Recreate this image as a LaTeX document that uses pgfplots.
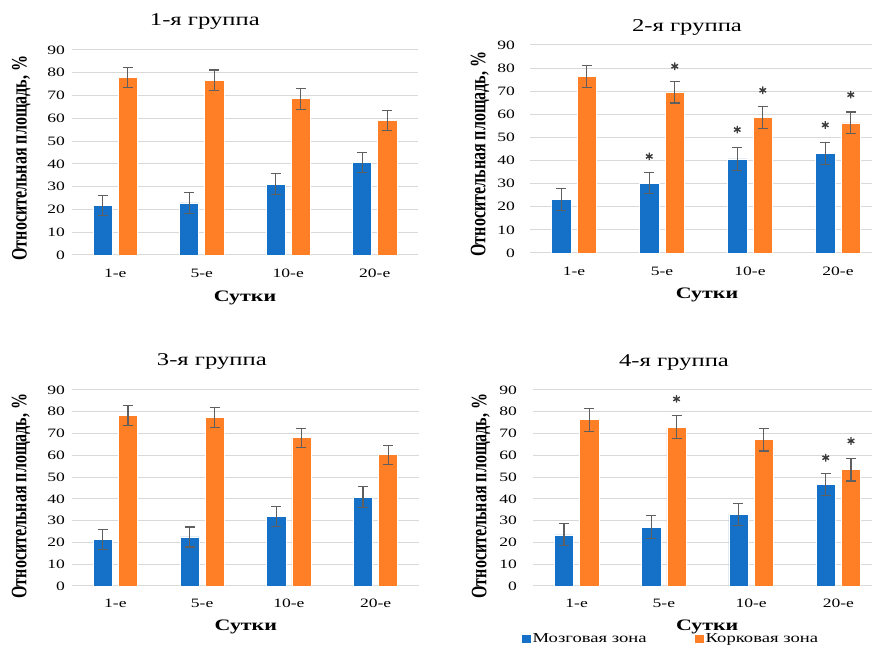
\documentclass[border=0pt]{standalone}
\usepackage{fontspec}
\setmainfont{Liberation Serif}
\newfontfamily\wide[FakeStretch=1.37]{Liberation Serif}
\newfontfamily\narrow[FakeStretch=0.73]{Liberation Serif}
\usepackage{pgfplots}
\pgfplotsset{compat=1.18}
\definecolor{cblue}{RGB}{21,112,200}
\definecolor{corange}{RGB}{255,127,39}
\definecolor{cerr}{RGB}{95,95,95}
\definecolor{cgrid}{RGB}{217,217,217}
\definecolor{cstar}{RGB}{60,60,60}
\pgfplotsset{
 panel/.style={
  scale only axis, xmin=-0.5, xmax=3.5, ymin=0, ymax=90, ytick={0,10,...,90},
  xtick={0,1,2,3}, xticklabels={1-е,5-е,10-е,20-е},
  axis line style={draw=none}, major tick length=0pt,
  ymajorgrids, major grid style={cgrid, line width=1pt},
  tick label style={font=\wide\fontsize{12.8}{14}\selectfont},
  /pgf/number format/assume math mode=true,
  xticklabel style={anchor=base, inner sep=0pt},
  yticklabel style={anchor=east, inner sep=0pt},
  title style={font=\wide\fontsize{18}{20}\selectfont, anchor=base, inner sep=0pt, yshift=0pt},
  xlabel style={font=\wide\bfseries\fontsize{16}{18}\selectfont, anchor=base, inner sep=0pt},
  ylabel style={font=\narrow\bfseries\fontsize{22}{24}\selectfont, anchor=center, inner sep=0pt},
  xlabel={Сутки}, ylabel={Относительная площадь, \%},
  legend image code/.code={\fill[##1, draw=none] (0pt,-4.2pt) rectangle (9pt,4.2pt);},
 },
 bb/.style={ybar, bar width=0.22, bar shift=0pt, fill=cblue, draw=white, line width=0.6pt,
  error bars/.cd, y dir=both, y explicit,
  error bar style={cerr, line width=1.1pt},
  error mark options={rotate=90, cerr, mark size=5pt, line width=1.1pt}},
 oo/.style={ybar, bar width=0.22, bar shift=0pt, fill=corange, draw=white, line width=0.6pt,
  error bars/.cd, y dir=both, y explicit,
  error bar style={cerr, line width=1.1pt},
  error mark options={rotate=90, cerr, mark size=5pt, line width=1.1pt}},
 st/.style={only marks, mark=asterisk, mark size=3.8pt, mark options={cstar, line width=1.4pt}},
}
\begin{document}
\begin{tikzpicture}
\useasboundingbox (0,0) rectangle (872pt,647pt);
% Panel 1
\begin{axis}[panel, at={(72pt,392pt)}, anchor=south west, width=346pt, height=205pt,
  title={1-я группа},
  title style={at={(axis description cs:0.384,1.088)}},
  xlabel style={at={(axis description cs:0.5,-0.225)}},
  ylabel style={at={(axis description cs:-0.147,0.473)}},
  yticklabel style={xshift=-7pt}, xticklabel style={yshift=-23pt}]
\addplot[bb] coordinates {(-0.145,21.8) +- (0,4.4) (0.855,22.9) +- (0,4.5) (1.855,31.1) +- (0,4.5) (2.855,40.6) +- (0,4.4)};
\addplot[oo] coordinates {(0.145,77.9) +- (0,4.5) (1.145,76.8) +- (0,4.4) (2.145,68.6) +- (0,4.6) (3.145,59.2) +- (0,4.4)};
\end{axis}
% Panel 2
\begin{axis}[panel, at={(530pt,394pt)}, anchor=south west, width=352pt, height=208pt,
  title={2-я группа},
  title style={at={(axis description cs:0.446,1.038)}},
  xlabel style={at={(axis description cs:0.503,-0.221)}},
  ylabel style={at={(axis description cs:-0.142,0.476)}},
  yticklabel style={xshift=-15pt}, xticklabel style={yshift=-23pt}]
\addplot[bb] coordinates {(-0.145,23.1) +- (0,4.7) (0.855,30.2) +- (0,4.6) (1.855,40.7) +- (0,4.9) (2.855,43.1) +- (0,4.8)};
\addplot[oo] coordinates {(0.145,76.5) +- (0,4.7) (1.145,69.6) +- (0,4.7) (2.145,58.7) +- (0,4.8) (3.145,56.3) +- (0,4.7)};
\addplot[st] coordinates {(0.855,41.8) (1.855,53.4) (2.855,55.4) (1.145,80.8) (2.145,70.4) (3.145,68.5)};
\end{axis}
% Panel 3
\begin{axis}[panel, at={(72pt,61pt)}, anchor=south west, width=347pt, height=196pt,
  title={3-я группа},
  title style={at={(axis description cs:0.403,1.096)}},
  xlabel style={at={(axis description cs:0.501,-0.229)}},
  ylabel style={at={(axis description cs:-0.147,0.459)}},
  yticklabel style={xshift=-7pt}, xticklabel style={yshift=-22pt}]
\addplot[bb] coordinates {(-0.145,21.5) +- (0,4.6) (0.855,22.5) +- (0,4.6) (1.855,32.1) +- (0,4.6) (2.855,40.8) +- (0,4.8)};
\addplot[oo] coordinates {(0.145,78.4) +- (0,4.6) (1.145,77.5) +- (0,4.6) (2.145,68.1) +- (0,4.4) (3.145,60.3) +- (0,4.4)};
\end{axis}
% Panel 4
\begin{axis}[panel, at={(533pt,61pt)}, anchor=south west, width=349pt, height=196pt,
  title={4-я группа},
  title style={at={(axis description cs:0.404,1.091)}},
  xlabel style={at={(axis description cs:0.499,-0.229)}},
  ylabel style={at={(axis description cs:-0.149,0.459)}},
  yticklabel style={xshift=-16pt}, xticklabel style={yshift=-22pt},
  legend style={at={(axis description cs:0.395,-0.270)}, anchor=center, draw=none, fill=none,
    legend columns=2, font=\wide\fontsize{13.6}{14}\selectfont, inner sep=0pt,
    /tikz/every even column/.append style={column sep=46pt}},
  ]
\addplot[bb] coordinates {(-0.145,23.5) +- (0,5.0) (0.855,27.0) +- (0,5.2) (1.855,32.8) +- (0,5.1) (2.855,46.5) +- (0,5.0)};
\addplot[oo] coordinates {(0.145,76.4) +- (0,5.3) (1.145,72.9) +- (0,5.2) (2.145,67.2) +- (0,5.2) (3.145,53.4) +- (0,5.2)};
\addplot[st] coordinates {(1.145,85.9) (2.855,58.9) (3.145,66.6)};
\legend{Мозговая зона, Корковая зона}
\end{axis}
\end{tikzpicture}
\end{document}
